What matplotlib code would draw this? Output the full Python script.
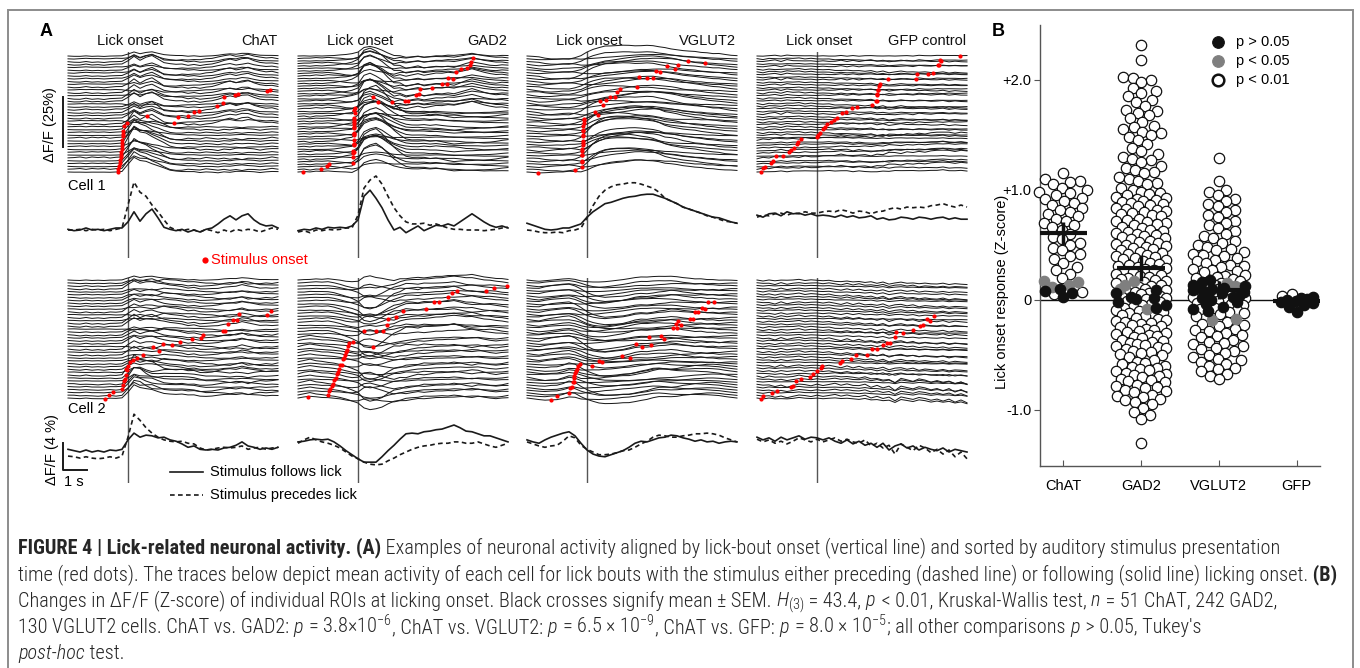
import numpy as np
import matplotlib.pyplot as plt
from matplotlib import font_manager
from matplotlib.lines import Line2D
from matplotlib.patches import Rectangle

W, H = 1360, 668

plt.rcParams['font.family'] = ['Liberation Sans', 'DejaVu Sans']

# ---------------- panel A data ----------------
# sample times of the mean traces (s from lick onset)
t_mean = np.arange(-2.5, 6.26, 0.25)

cell_types = ['ChAT', 'GAD2', 'VGLUT2', 'GFP control']

# mean dF/F (%) for "stimulus follows lick" (solid) and "precedes lick" (dashed)
chat1_solid = [0.1, -0.1, 0.0, 0.3, 0.0, 0.1, -0.1, 0.1, 0.3, 0.3, 1.2, 2.7, 1.3, 2.4, 3.1, 1.8, 0.4, 0.1,
               -0.1, 0.1, -0.3, 0.0, -0.3, 0.1, 0.3, 0.9, 1.6, 2.1, 1.5, 2.1, 2.4, 1.5, 0.9, 0.6, 0.7, 0.3]
chat1_dashed = [0.0, 0.0, 0.1, -0.1, 0.1, 0.0, 0.1, -0.1, 0.1, 0.3, 3.7, 7.1, 5.6, 5.0, 3.7, 2.7, 1.5, 0.4,
                0.0, -0.1, 0.1, 0.0, -0.3, 0.1, -0.1, -0.4, 0.0, -0.3, 0.1, -0.1, 0.1, 0.0, -0.3, 0.0, 0.3, 0.1]
gad2_1_solid = [-0.1, 0.1, 0.0, 0.3, 0.1, 0.4, 0.3, 0.4, 0.3, 0.6, 1.5, 5.0, 5.9, 4.7, 3.3, 1.5, 0.0, 0.4,
                -0.4, 0.1, 0.6, -0.1, 0.3, 0.7, 0.6, 0.9, 0.6, 1.2, 1.8, 2.4, 1.8, 1.2, 0.7, 0.4, 0.6, 0.3]
gad2_1_dashed = [-0.3, -0.1, -0.4, 0.0, -0.1, 0.1, 0.0, 0.1, 0.3, 0.3, 2.2, 6.2, 7.4, 8.0, 6.8, 5.0, 3.3, 2.1,
                 1.2, 0.9, 0.9, 1.0, 0.7, 0.9, 0.6, 0.3, 0.1, 0.1, 0.0, 0.0, 0.0, -0.1, 0.0, 0.1, 0.3, 0.4]
vglut1_solid = [1.0, 0.7, 0.4, 0.1, 0.0, 0.1, 0.3, 0.3, 0.6, 0.9, 1.9, 2.7, 3.3, 3.9, 4.1, 4.4, 4.7, 4.9,
                5.0, 5.2, 5.3, 5.3, 5.0, 4.7, 4.3, 3.9, 3.4, 3.1, 2.8, 2.5, 2.2, 1.9, 1.8, 1.5, 1.2, 1.0]
vglut1_dashed = [0.0, -0.1, -0.3, -0.4, -0.4, -0.3, -0.4, -0.1, 0.0, 0.3, 1.8, 3.6, 5.0, 5.9, 6.4, 6.7, 6.8, 7.0,
                 7.0, 6.8, 6.5, 6.2, 5.6, 4.7, 4.3, 3.9, 3.4, 3.1, 2.8, 2.5, 2.1, 1.9, 1.6, 1.3, 1.2, 1.0]
gfp1_solid = [2.2, 1.9, 2.4, 2.5, 2.1, 2.7, 2.4, 2.5, 2.2, 2.4, 2.1, 2.2, 2.1, 1.9, 2.2, 1.9, 2.1, 1.8,
              1.9, 2.1, 1.6, 1.8, 1.5, 1.6, 1.9, 1.8, 1.6, 1.9, 1.8, 1.6, 1.8, 1.9, 1.6, 1.8, 1.6, 1.6]
gfp1_dashed = [1.9, 2.2, 2.1, 2.4, 2.5, 2.2, 2.5, 2.4, 2.7, 2.5, 2.5, 2.7, 2.8, 2.7, 3.0, 2.8, 2.5, 2.8,
               2.7, 2.4, 2.7, 2.8, 3.1, 3.3, 3.1, 3.4, 3.3, 3.4, 3.3, 3.6, 3.7, 3.9, 3.6, 3.4, 3.7, 3.4]

chat2_solid = [0.1, -0.1, -0.3, 0.0, -0.3, -0.1, -0.3, 0.0, -0.1, 0.1, 1.5, 2.5, 1.9, 2.2, 2.1, 1.8, 1.9, 1.5,
               1.3, 0.9, 0.4, 0.6, 0.1, 0.0, 0.1, 0.0, 0.3, 0.4, 0.7, 1.2, 0.6, 0.4, 0.1, 0.3, 0.1, 0.4]
chat2_dashed = [-0.9, -1.0, -1.2, -1.0, -1.2, -1.3, -1.2, -1.0, -1.2, -0.9, 1.9, 5.3, 4.4, 3.3, 2.5, 1.9, 1.5, 1.3,
                1.2, 1.3, 1.0, 0.9, 0.3, 0.0, 0.1, 0.3, 0.4, 0.3, 0.4, 0.6, 0.1, 0.3, 0.4, 0.1, 0.3, 0.4]
gad2_2_solid = [1.2, 1.3, 1.5, 1.6, 1.5, 1.6, 1.2, 0.6, -0.1, -0.7, -1.3, -1.8, -1.8, -1.8, -1.0, -0.1, 0.7, 1.6,
                2.4, 2.5, 2.4, 2.7, 2.8, 3.0, 3.1, 3.4, 3.7, 3.3, 2.8, 2.7, 2.4, 2.1, 2.1, 1.8, 1.5, 1.2]
gad2_2_dashed = [1.0, 1.5, 1.9, 1.5, 1.2, 1.0, 0.7, 0.3, -0.3, -0.9, -1.3, -1.8, -2.1, -2.2, -2.1, -1.6, -1.2, -0.7,
                 -0.3, 0.1, 0.4, 0.6, 0.7, 0.9, 1.0, 1.0, 1.2, 1.2, 1.0, 1.0, 1.2, 0.9, 0.6, 0.4, 0.7, 1.0]
vglut2_solid = [1.5, 1.2, 1.0, 1.5, 1.9, 2.2, 2.5, 2.7, 2.1, 1.0, 0.0, -0.6, -0.9, -1.0, -0.7, -0.4, -0.1, 0.4,
                1.0, 1.3, 1.2, 1.5, 1.8, 1.9, 2.2, 2.1, 1.8, 1.6, 1.3, 1.5, 1.2, 1.3, 1.0, 1.2, 1.3, 1.2]
vglut2_dashed = [1.2, 0.9, 0.6, 0.4, 0.6, 0.7, 1.3, 2.1, 1.8, 0.7, 0.1, -0.3, -0.7, -0.7, -0.6, -0.4, -0.1, 0.0,
                 0.4, 0.9, 1.3, 1.9, 2.2, 2.1, 1.9, 1.9, 2.1, 2.2, 2.4, 2.4, 2.5, 2.4, 2.2, 1.8, 1.5, 1.2]
gfp2_solid = [1.9, 1.5, 1.8, 1.3, 1.9, 1.5, 1.8, 2.1, 1.6, 1.9, 1.8, 1.5, 1.8, 1.3, 1.0, 1.5, 0.9, 1.3,
              0.7, 1.0, 0.4, 1.0, 0.0, 0.6, 0.9, 0.3, 0.6, 0.0, 0.4, 0.1, -0.1, 0.3, -0.3, 0.1, -0.1, -0.3]
gfp2_dashed = [1.6, 1.2, 1.5, 1.0, 1.3, 0.9, 1.3, 1.8, 1.5, 1.2, 1.6, 1.2, 1.5, 1.8, 1.3, 1.6, 1.2, 1.0,
               1.5, 0.6, 1.0, 0.3, 0.7, -0.6, 0.9, 0.4, -0.1, 0.7, 0.3, -0.4, 0.1, -0.6, 0.0, -1.0, -0.3, -1.3]

# stimulus onset (s) for each trial, sorted, bottom trial first
chat1_dots = [-0.42, -0.4, -0.38, -0.35, -0.33, -0.3, -0.3, -0.28, -0.27, -0.25, -0.25, -0.23, -0.22, -0.2, -0.2,
              -0.18, -0.04, 0.8, 1.9, 2.1, 2.5, 2.75, 2.95, 3.7, 3.95, 4.0, 4.45, 4.6, 5.8, 5.9]
gad2_1_dots = [-2.3, -1.55, -1.3, -1.2, -0.2, -0.2, -0.19, -0.19, -0.18, -0.18, -0.18, -0.17, -0.17, -0.17, -0.17,
               -0.16, -0.16, -0.16, -0.16, -0.15, -0.15, -0.15, -0.15, -0.14, -0.14, 0.62, 0.85, 1.4, 1.95, 2.08,
               2.4, 2.55, 2.6, 3.1, 3.5, 3.7, 3.75, 3.95, 4.1, 4.3, 4.55, 4.65, 4.7, 4.8]
vglut1_dots = [-2.05, -0.5, -0.22, -0.21, -0.21, -0.2, -0.2, -0.19, -0.19, -0.18, -0.18, -0.17, -0.17, -0.16,
               -0.16, -0.15, -0.15, -0.14, -0.14, -0.13, 0.33, 0.45, 0.55, 0.67, 0.8, 0.96, 1.17, 1.25, 1.37,
               2.08, 2.17, 2.5, 2.75, 2.88, 3.04, 3.33, 3.67, 3.8, 4.2, 4.92]
gfp1_dots = [-2.35, -2.25, -2.17, -1.93, -1.82, -1.71, -1.4, -1.15, -1.1, -0.96, -0.85, -0.78, -0.68, -0.01,
             0.06, 0.13, 0.25, 0.33, 0.43, 0.57, 0.7, 0.82, 1.05, 1.21, 1.44, 1.65, 2.28, 2.46, 2.48, 2.49, 2.51,
             2.53, 2.56, 2.6, 2.63, 2.97, 4.13, 4.15, 4.64, 4.82, 5.06, 5.1, 5.13, 5.15, 5.96]
chat2_dots = [-0.96, -0.79, -0.62, -0.26, -0.2, -0.17, -0.13, -0.1, -0.08, -0.04, 0.0, 0.08, 0.22, 0.36, 0.61,
              1.03, 1.3, 1.47, 1.82, 2.17, 2.65, 3.04, 3.13, 3.97, 4.05, 4.18, 4.39, 4.54, 4.63, 5.78, 5.96]
gad2_2_dots = [-2.1, -1.25, -1.2, -1.17, -1.1, -1.04, -1.0, -0.92, -0.87, -0.83, -0.79, -0.75, -0.67, -0.63,
               -0.58, -0.54, -0.5, -0.46, -0.4, -0.37, -0.21, 0.25, 0.62, 0.75, 1.04, 1.21, 1.25, 1.58, 1.87,
               2.83, 3.17, 3.37, 3.75, 3.91, 4.12, 5.33, 5.67, 6.2]
vglut2_dots = [-1.5, -1.25, -0.75, -0.71, -0.63, -0.58, -0.56, -0.54, -0.54, -0.5, -0.46, -0.42, -0.38, -0.29,
               0.21, 0.5, 0.62, 1.46, 1.79, 2.04, 2.29, 2.58, 2.67, 3.08, 3.21, 3.58, 3.71, 3.75, 3.79, 3.92,
               4.29, 4.42, 4.5, 4.62, 4.79, 4.92, 5.04, 5.29]
gfp2_dots = [-2.33, -2.25, -1.88, -1.67, -1.1, -1.0, -0.88, -0.67, -0.29, -0.17, 0.0, 0.17, 0.21, 0.96, 1.04,
             1.42, 1.63, 2.08, 2.29, 2.5, 2.75, 2.92, 3.04, 3.25, 3.29, 3.58, 4.0, 4.29, 4.42, 4.58, 4.71, 4.88]

n_trials_row1 = [42, 47, 43, 45]
n_trials_row2 = [42, 40, 46, 44]

# per-trial weights of the cell's own mean trace and of the other cell's trace
trial_gain = [0.9, 1.4, 0.5, 1.1, 0.7, 1.6, 0.4, 1.0, 1.3, 0.6, 1.2, 0.8, 1.5, 0.3, 1.0, 1.1, 0.7, 1.4, 0.5,
              0.9, 1.2, 0.6, 1.7, 0.8, 0.4, 1.3, 1.0, 0.7, 1.1, 0.5, 1.5, 0.9, 0.6, 1.2, 0.8, 1.4, 0.4, 1.0,
              1.3, 0.7, 1.1, 0.5, 1.2, 0.9, 0.7, 0.8, 0.6, 0.7, 0.5, 0.6]
trial_mix = [0.4, -0.5, 0.7, -0.2, 0.6, -0.7, 0.3, -0.4, 0.8, -0.6, 0.1, 0.5, -0.7, 0.4, -0.3, 0.6, -0.4, 0.3,
             -0.8, 0.6, -0.1, 0.7, -0.5, 0.2, -0.6, 0.4, 0.8, -0.3, 0.5, -0.7, 0.1, -0.6, 0.7, -0.2, 0.4, -0.7,
             0.6, -0.4, 0.3, 0.7, -0.5, 0.3, -0.6, 0.5, -0.3, 0.4, -0.4, 0.2, -0.5, 0.3]

# ---------------- panel B data ----------------
groups = ['ChAT', 'GAD2', 'VGLUT2', 'GFP']
chat_p01 = [1.15, 1.1, 1.08, 1.07, 1.05, 1.02, 1.0, 0.98, 0.97, 0.95, 0.93, 0.92, 0.9, 0.88, 0.86, 0.84,
            0.82, 0.8, 0.78, 0.76, 0.74, 0.72, 0.7, 0.68, 0.66, 0.64, 0.6, 0.57, 0.55, 0.52, 0.5, 0.47, 0.45,
            0.42, 0.4, 0.37, 0.34, 0.3, 0.27, 0.24, 0.2, 0.07, 0.05]
chat_p05 = [0.17, 0.16, 0.14, 0.12]
chat_ns = [0.1, 0.08, 0.06, 0.03]
gad2_p01 = [2.32, 2.18, 2.03, 2.02, 2.0, 1.98, 1.93, 1.9, 1.88, 1.85, 1.82, 1.8, 1.76, 1.73, 1.72, 1.7, 1.68,
            1.65, 1.62, 1.58, 1.57, 1.55, 1.53, 1.52, 1.5, 1.48, 1.45, 1.42, 1.38, 1.35, 1.33, 1.3, 1.28, 1.27,
            1.25, 1.22, 1.2, 1.18, 1.16, 1.15, 1.12, 1.1, 1.08, 1.06, 1.05, 1.02,
            1.0, 0.98, 0.97, 0.96, 0.95, 0.94, 0.93, 0.92, 0.91, 0.9, 0.89, 0.88, 0.87, 0.86, 0.85, 0.84, 0.83,
            0.82, 0.81, 0.8, 0.79, 0.78, 0.77, 0.76, 0.74, 0.73, 0.72, 0.71, 0.7, 0.69, 0.68, 0.66, 0.65, 0.64,
            0.63, 0.62, 0.61, 0.6, 0.59, 0.58, 0.57, 0.56, 0.55, 0.54, 0.53, 0.52, 0.51, 0.5,
            0.49, 0.48, 0.47, 0.46, 0.45, 0.44, 0.43, 0.42, 0.41, 0.4, 0.39, 0.38, 0.37, 0.36, 0.35, 0.34, 0.33,
            0.32, 0.31, 0.3, 0.29, 0.28, 0.27, 0.26, 0.25, 0.24, 0.23, 0.22, 0.21, 0.2, 0.19, 0.18, 0.17, 0.16,
            0.15, 0.14, 0.13, 0.12, 0.11, 0.1, 0.09, 0.08, 0.07, 0.06, 0.05, 0.04, 0.03, 0.02, 0.01,
            -0.01, -0.02, -0.04, -0.05, -0.06, -0.07, -0.09, -0.1, -0.11, -0.12, -0.13, -0.14, -0.15, -0.16,
            -0.17, -0.18, -0.19, -0.2, -0.21, -0.22, -0.23, -0.24, -0.25, -0.26, -0.27, -0.28, -0.29, -0.3,
            -0.31, -0.32, -0.33, -0.34, -0.35, -0.36, -0.37, -0.38, -0.39, -0.4, -0.41, -0.42, -0.43, -0.44,
            -0.45, -0.46, -0.47, -0.48, -0.49, -0.5,
            -0.52, -0.55, -0.56, -0.57, -0.58, -0.6, -0.61, -0.62, -0.63, -0.64, -0.65, -0.66, -0.67, -0.68,
            -0.69, -0.7, -0.72, -0.73, -0.74, -0.75, -0.77, -0.78, -0.79, -0.8, -0.82, -0.83, -0.84, -0.86,
            -0.87, -0.88, -0.9, -0.91, -0.93, -0.95, -0.98, -1.02, -1.05, -1.08, -1.3]
gad2_p05 = [0.17, 0.14, 0.1, -0.08]
gad2_ns = [0.09, 0.06, 0.03, 0.02, 0.01, -0.02, -0.05, -0.07]
vglut_p01 = [1.29, 1.08, 1.0, 0.98, 0.95, 0.92, 0.9, 0.87, 0.85, 0.82, 0.8, 0.77, 0.75, 0.72, 0.7, 0.68, 0.65,
             0.63, 0.6, 0.58, 0.56, 0.54, 0.52, 0.5, 0.48, 0.46, 0.45, 0.44, 0.42, 0.41, 0.4, 0.38, 0.36, 0.35,
             0.34, 0.32, 0.31, 0.3, 0.28, 0.27, 0.26, 0.25, 0.23, 0.22, 0.21, 0.2, 0.19, 0.17, 0.15, 0.14, 0.13,
             0.12, 0.11, 0.1, 0.08, 0.07, 0.06, 0.05, 0.03, 0.02, 0.01, -0.01, -0.03, -0.04, -0.05, -0.07,
             -0.08, -0.09, -0.11, -0.12, -0.13, -0.15, -0.2, -0.22, -0.23, -0.24, -0.26, -0.27, -0.28, -0.3,
             -0.32, -0.33, -0.34, -0.36, -0.38, -0.39, -0.4, -0.42, -0.44, -0.45, -0.46, -0.48, -0.5, -0.52,
             -0.54, -0.55, -0.56, -0.58, -0.6, -0.62, -0.63, -0.65, -0.67, -0.69, -0.72]
vglut_p05 = [0.15, 0.13, -0.17, -0.18]
vglut_ns = [0.18, 0.16, 0.14, 0.12, 0.1, 0.09, 0.08, 0.07, 0.06, 0.05, 0.04, 0.03, 0.02, 0.0, -0.02, -0.04,
            -0.06, -0.08, -0.1, 0.11, 0.13]
gfp_p01 = [0.05, 0.04]
gfp_p05 = []
gfp_ns = [0.03, 0.02, 0.0, -0.01, -0.02, -0.03, -0.05, -0.06, -0.11, 0.01]

group_mean = [0.61, 0.29, 0.09, -0.01]
group_sem = [0.1, 0.12, 0.08, 0.02]

# ---------------- layout helpers ----------------
fig = plt.figure(figsize=(W / 100, H / 100), dpi=100)


def rect(x0, y0, x1, y1):
    return [x0 / W, 1 - y1 / H, (x1 - x0) / W, (y1 - y0) / H]


def fxy(x, y):
    return x / W, 1 - y / H


fig.add_artist(Rectangle(fxy(8, 720), 1345 / W, 710 / H, transform=fig.transFigure,
                         fill=False, ec='#8c8c8c', lw=1.4, clip_on=False))

col_x0 = [68, 298, 527, 757]
T0, T1 = -2.5, 6.25
ink = '#1a1a1a'

rows = [
    dict(solid=[chat1_solid, gad2_1_solid, vglut1_solid, gfp1_solid],
         dashed=[chat1_dashed, gad2_1_dashed, vglut1_dashed, gfp1_dashed],
         other=[chat2_solid, gad2_2_solid, vglut2_solid, gfp2_solid],
         dots=[chat1_dots, gad2_1_dots, vglut1_dots, gfp1_dots], n=n_trials_row1,
         stack=(40, 182, 172), mean=(172, 245, 230), line=(52, 258), top=58.0),
    dict(solid=[chat2_solid, gad2_2_solid, vglut2_solid, gfp2_solid],
         dashed=[chat2_dashed, gad2_2_dashed, vglut2_dashed, gfp2_dashed],
         other=[chat1_solid, gad2_1_solid, vglut1_solid, gfp1_solid],
         dots=[chat2_dots, gad2_2_dots, vglut2_dots, gfp2_dots], n=n_trials_row2,
         stack=(262, 405, 398), mean=(405, 475, 450), line=(278, 483), top=59.0),
]

mean_axes = []
for r, row in enumerate(rows):
    for c in range(4):
        x0 = col_x0[c]
        solid = np.array(row['solid'][c])
        dashed = np.array(row['dashed'][c])
        other = np.array(row['other'][c])
        dots = row['dots'][c]
        n = row['n'][c]

        # lick onset line
        axl = fig.add_axes(rect(x0, row['line'][0], x0 + 210, row['line'][1]))
        axl.axis('off')
        axl.set_xlim(T0, T1)
        axl.axvline(0, color='#555555', lw=1.0)

        # single trials
        top, bot, base = row['stack']
        axs = fig.add_axes(rect(x0, top, x0 + 210, bot))
        axs.axis('off')
        axs.set_xlim(T0, T1)
        axs.set_ylim(-(bot - base) / 2, (base - top) / 2)
        sp = row['top'] / (n - 1)
        dot_y = []
        for i in range(n):
            pre = i < len(dots) and dots[i] < 0
            tm = dashed if pre else solid
            y = i * sp + trial_gain[i] * (tm - tm[0]) + trial_mix[i] * (other - other[0])
            axs.plot(t_mean, y, color=ink, lw=0.72, clip_on=False)
            if i < len(dots):
                dot_y.append(np.interp(dots[i], t_mean, y))
        axs.plot(dots, dot_y, 'o', color='#ff0000', ms=3.0, mec='none', clip_on=False, zorder=5)

        # mean traces
        top, bot, base = row['mean']
        axm = fig.add_axes(rect(x0, top, x0 + 210, bot))
        axm.axis('off')
        axm.set_xlim(T0, T1)
        axm.set_ylim(-(bot - base) / 6.75, (base - top) / 6.75)
        axm.plot(t_mean, dashed, color=ink, lw=1.2, ls=(0, (2.8, 2.0)), clip_on=False)
        axm.plot(t_mean, solid, color=ink, lw=1.2, clip_on=False)
        mean_axes.append(axm)

        if r == 0:
            fig.text(*fxy(x0 + 62, 41), 'Lick onset', fontsize=10.5, ha='center', va='center', color='#111')
            fig.text(*fxy(x0 + 209, 41), cell_types[c], fontsize=10.5, ha='right', va='center', color='#111')
            if c == 0:
                # 25 % scale bar on the trial stack
                axs.plot([-2.71, -2.71], [12.5, 37.5], color=ink, lw=1.4, clip_on=False)

# 4 % / 1 s scale bar on the lower mean traces
axm = mean_axes[4]
axm.plot([-2.71, -2.71, -1.71], [1.04, -2.96, -2.96], color=ink, lw=1.4, clip_on=False)

fig.text(*fxy(40, 32), 'A', fontsize=13, fontweight='bold', ha='left', va='center')
fig.text(*fxy(50, 125), 'ΔF/F (25%)', fontsize=10.5, rotation=90, ha='center', va='center')
fig.text(*fxy(68, 186), 'Cell 1', fontsize=10.5, ha='left', va='center')
fig.text(*fxy(68, 409), 'Cell 2', fontsize=10.5, ha='left', va='center')
fig.text(*fxy(52, 450), 'ΔF/F (4 %)', fontsize=10.5, rotation=90, ha='center', va='center')
fig.text(*fxy(74, 482), '1 s', fontsize=10.5, ha='center', va='center')

fig.add_artist(Line2D([205 / W], [1 - 260 / H], marker='o', color='#ff0000', ms=4.5, mec='none',
                      transform=fig.transFigure))
fig.text(*fxy(211, 260), 'Stimulus onset', fontsize=10.5, color='#ff0000', ha='left', va='center')

fig.add_artist(Line2D([170 / W, 203 / W], [1 - 472 / H] * 2, color=ink, lw=1.2, transform=fig.transFigure))
fig.add_artist(Line2D([170 / W, 203 / W], [1 - 495 / H] * 2, color=ink, lw=1.2, ls=(0, (2.8, 2.0)),
                      transform=fig.transFigure))
fig.text(*fxy(210, 472), 'Stimulus follows lick', fontsize=10.5, ha='left', va='center')
fig.text(*fxy(210, 495), 'Stimulus precedes lick', fontsize=10.5, ha='left', va='center')

# ---------------- panel B ----------------
axb = fig.add_axes(rect(1040, 25, 1320, 466))
axb.set_xlim(-0.3, 3.3)
axb.set_ylim(-1.51, 2.5)
for s in ['top', 'right']:
    axb.spines[s].set_visible(False)
for s in ['left', 'bottom']:
    axb.spines[s].set_color('#555555')
    axb.spines[s].set_linewidth(1.0)
axb.set_yticks([-1, 0, 1, 2])
axb.set_yticklabels(['-1.0', '0', '+1.0', '+2.0'])
axb.set_xticks(range(4))
axb.set_xticklabels(groups)
axb.tick_params(axis='y', direction='out', length=4, pad=2, labelsize=10.5, color='#555555')
axb.tick_params(axis='x', direction='in', length=4, pad=9, labelsize=10.5, color='#555555')
axb.axhline(0, color='#111111', lw=1.0, zorder=1)

px_x = 280 / 3.6
px_y = 441 / 4.01


def swarm(vals, hw, d):
    vals = np.asarray(vals, dtype=float)
    ys = vals * px_y
    xs = np.zeros(len(vals))
    steps = np.arange(0.5, hw + 0.01, 0.5)
    cand = np.concatenate([[0.0], np.column_stack([steps, -steps]).ravel()])
    placed = []
    for j, i in enumerate(np.argsort(vals)):
        cc = cand if j % 2 == 0 else -cand
        if placed:
            p = np.array(placed)
            near = np.abs(ys[p] - ys[i]) < d
            px, py = xs[p][near], ys[p][near]
        else:
            px = np.array([])
        if len(px) == 0:
            xs[i] = 0.0
        else:
            dist = np.sqrt((cc[:, None] - px[None, :]) ** 2 + (ys[i] - py[None, :]) ** 2).min(axis=1)
            ok = np.where(dist >= d)[0]
            xs[i] = cc[ok[0]] if len(ok) else cc[np.argmax(dist)]
        placed.append(i)
    return xs / px_x


group_sets = [(chat_p01, chat_p05, chat_ns, 24), (gad2_p01, gad2_p05, gad2_ns, 25),
              (vglut_p01, vglut_p05, vglut_ns, 26), (gfp_p01, gfp_p05, gfp_ns, 16)]
for g, (w, gr, bl, hw) in enumerate(group_sets):
    vals = list(w) + list(gr) + list(bl)
    kind = ['w'] * len(w) + ['g'] * len(gr) + ['b'] * len(bl)
    off = swarm(vals, hw, 9.5)
    vals = np.array(vals)
    kind = np.array(kind)
    for k, fc, ec, z in [('w', 'white', '#111111', 3), ('g', '#7f7f7f', '#7f7f7f', 4), ('b', '#111111', '#111111', 5)]:
        m = kind == k
        axb.scatter(g + off[m], vals[m], s=56, facecolor=fc, edgecolor=ec, lw=0.9, zorder=z, clip_on=False)

for g in range(4):
    axb.plot([g - 0.31, g + 0.31], [group_mean[g]] * 2, color='#111111', lw=3.0, zorder=7, solid_capstyle='butt')
    axb.plot([g, g], [group_mean[g] - group_sem[g], group_mean[g] + group_sem[g]], color='#111111', lw=2.5,
             zorder=7, solid_capstyle='butt')

leg = [('#111111', '#111111', 'p > 0.05', 0.961), ('#7f7f7f', '#7f7f7f', 'p < 0.05', 0.918),
       ('white', '#111111', 'p < 0.01', 0.875)]
for fc, ec, lab, yy in leg:
    axb.scatter([0.636], [yy], s=70, facecolor=fc, edgecolor=ec, lw=1.8 if fc == 'white' else 0.8,
                transform=axb.transAxes, clip_on=False, zorder=8)
    axb.text(0.70, yy, lab, transform=axb.transAxes, fontsize=10.5, ha='left', va='center')

fig.text(*fxy(992, 32), 'B', fontsize=13, fontweight='bold', ha='left', va='center')
fig.text(*fxy(1002, 292), 'Lick onset response (Z-score)', fontsize=10.5, rotation=90, ha='center', va='center')

# ---------------- caption ----------------
names = {f.name for f in font_manager.fontManager.ttflist}
cap_font = 'Liberation Sans'
for cand in ['Liberation Sans Narrow', 'Roboto Condensed', 'Open Sans Condensed', 'Liberation Sans']:
    if cand in names:
        cap_font = cand
        break
light = 'light' if cap_font == 'Roboto Condensed' else 'normal'
plt.rcParams['mathtext.fontset'] = 'custom'
plt.rcParams['mathtext.rm'] = cap_font + ':' + light
plt.rcParams['mathtext.it'] = cap_font + ':italic:' + light
plt.rcParams['mathtext.bf'] = cap_font + ':bold'

B, N, I = ('bold', 'normal'), (light, 'normal'), (light, 'italic')
caption = [
    [('FIGURE 4 | Lick-related neuronal activity. (A)', B),
     (' Examples of neuronal activity aligned by lick-bout onset (vertical line) and sorted by auditory stimulus presentation', N)],
    [('time (red dots). The traces below depict mean activity of each cell for lick bouts with the stimulus either preceding (dashed line) or following (solid line) licking onset.', N),
     (' (B)', B)],
    [('Changes in ΔF/F (Z-score) of individual ROIs at licking onset. Black crosses signify mean ± SEM.', N),
     (r' $H_{(3)}$', N), (' = 43.4,', N), (r' $p$', N), (' < 0.01, Kruskal-Wallis test,', N), (r' $n$', N),
     (' = 51 ChAT, 242 GAD2,', N)],
    [('130 VGLUT2 cells. ChAT vs. GAD2:', N), (r' $p$', N), (r' = 3.8×10$^{-6}$', N), (', ChAT vs. VGLUT2:', N),
     (r' $p$', N), (r' = 6.5 × 10$^{-9}$', N), (', ChAT vs. GFP:', N), (r' $p$', N), (r' = 8.0 × 10$^{-5}$', N),
     ('; all other comparisons', N), (r' $p$', N), (" > 0.05, Tukey's", N)],
    [('post-hoc', I), (' test.', N)],
]
cap_base = [553, 580, 606, 633, 659]
renderer = fig.canvas.get_renderer()


def put_line(segs, x, y, size):
    arts = []
    for s, (wt, st) in segs:
        t = fig.text(x / W, 1 - y / H, s, fontsize=size, family=[cap_font, 'Liberation Sans', 'DejaVu Sans'],
                     fontweight=wt, fontstyle=st, ha='left', va='baseline', color='#262626')
        x += t.get_window_extent(renderer).width
        arts.append(t)
    return x, arts


x_end, tmp = put_line(caption[1], 18, cap_base[1], 10)
for t in tmp:
    t.remove()
cap_size = 10 * (1340 - 18) / (x_end - 18)
for segs, yb in zip(caption, cap_base):
    put_line(segs, 18, yb, cap_size)

fig.savefig('out.png', dpi=100)
